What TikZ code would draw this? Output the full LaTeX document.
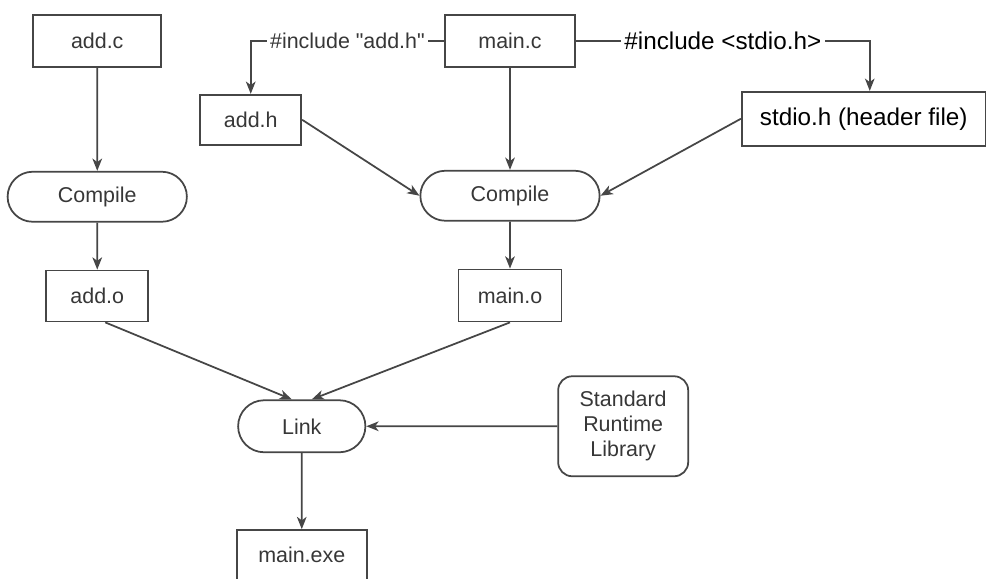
\documentclass[tikz,border=0pt]{standalone}
\usepackage{fontspec}
\setmainfont[Ligatures=TeXOff]{Liberation Sans}
\usetikzlibrary{shapes.misc, arrows.meta, positioning}
\definecolor{boxcolor}{RGB}{70,70,70}
\definecolor{textcolor}{RGB}{55,55,55}

\begin{document}
\begin{tikzpicture}[
    node distance=2cm,
    file/.style={draw=boxcolor, line width=1pt, text=textcolor, minimum width=2.04cm, minimum height=1.02cm, font=\fontsize{12.2}{14.6}\selectfont},
    process/.style={draw=boxcolor, line width=1pt, rounded rectangle, text=textcolor, minimum width=3.82cm, minimum height=1cm, font=\fontsize{12.2}{14.6}\selectfont},
    library/.style={draw=boxcolor, line width=1pt, rounded corners=8pt, align=center, text=textcolor, minimum width=2.6cm, minimum height=2cm, font=\fontsize{12.2}{14.2}\selectfont},
    header/.style={text=black, font=\fontsize{13.8}{16}\selectfont},
    arrow/.style={-{Stealth[length=7pt, width=5.5pt, inset=2pt]}, line width=1pt, draw=boxcolor},
    note/.style={fill=white, inner sep=2pt, text=textcolor, font=\fontsize{12.2}{14.6}\selectfont}
]
    \useasboundingbox (0,0) rectangle (19.72,11.58);

    % Source and header files
    \node[file, minimum width=2.6cm, minimum height=1.04cm] (mainc) at (10.2,10.76) {main.c};
    \node[file, minimum width=2.56cm, minimum height=1.04cm, left=5.64cm of mainc] (addc) {add.c};
    \node[file, minimum width=2.02cm, minimum height=1cm, below left=0.52cm and 2.84cm of mainc] (addh) {add.h};
    \node[file, header, minimum width=4.88cm, minimum height=1.08cm, below right=0.46cm and 3.3cm of mainc] (stdio) {stdio.h (header file)};

    % Compile steps and object files
    \node[process, below=2.06cm of addc] (compadd) {Compile};
    \node[process, below=2.04cm of mainc] (compmain) {Compile};
    \node[file, below=0.94cm of compadd] (addo) {add.o};
    \node[file, minimum width=2.06cm, minimum height=1.04cm, below=0.94cm of compmain] (maino) {main.o};

    % Linking (north west of a rounded rectangle sits past the arc)
    \node[process, minimum width=2.78cm, minimum height=1.04cm, below right=1.54cm and 2.3cm of addo] (link) {Link};
    \node[file, minimum width=2.6cm, minimum height=1cm, below=1.52cm of link] (mainexe) {main.exe};
    \node[library, right=3.82cm of link] (stdlib) {Standard\\Runtime\\Library};

    % Includes
    \draw[arrow] (mainc.west) -| node[note, pos=0.25] {\#include "add.h"} (addh.north);
    \draw[arrow] (mainc.east) -| node[note, header, pos=0.25] {\#include <stdio.h>} ([xshift=0.12cm]stdio.north);

    % Build flow
    \draw[arrow] (addc) -- (compadd);
    \draw[arrow] (compadd) -- (addo);
    \draw[arrow] (mainc) -- (compmain);
    \draw[arrow] (compmain) -- (maino);
    \draw[arrow] (addh.east) -- (compmain.west);
    \draw[arrow] (stdio.west) -- (compmain.east);
    \draw[arrow] ([xshift=0.16cm]addo.south) -- ([xshift=-0.2cm]link.north);
    \draw[arrow] (maino.south) -- ([xshift=0.2cm]link.north);
    \draw[arrow] (stdlib) -- (link);
    \draw[arrow] (link) -- (mainexe);
\end{tikzpicture}
\end{document}
